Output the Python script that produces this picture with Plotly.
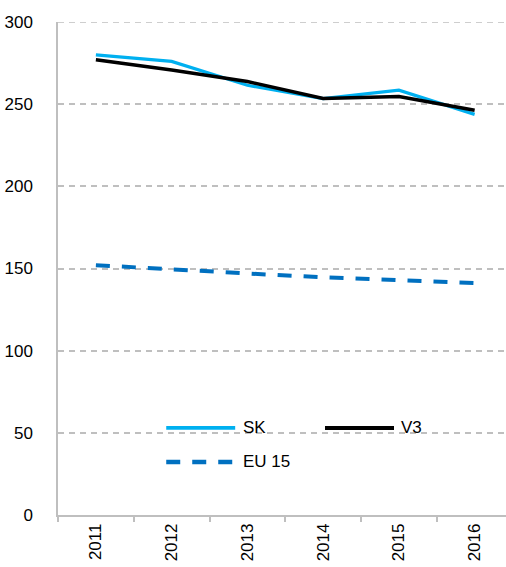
import plotly.graph_objects as go

years = ["2011", "2012", "2013", "2014", "2015", "2016"]
sk = [280, 276, 261.5, 253.4, 258.5, 243.8]
v3 = [277, 270.8, 263.8, 253.4, 254.6, 246.3]
eu15 = [152, 149.8, 147, 144.6, 142.6, 141.2]
y_ticks = [0, 50, 100, 150, 200, 250, 300]

names = ["SK", "V3", "EU 15"]
colors = ["#00B0F0", "#000000", "#0070C0"]
widths = [3.2, 3.5, 4]
dashes = ["solid", "solid", "14px,12px"]
series = [sk, v3, eu15]

FONT = "Liberation Sans, Arial, sans-serif"

fig = go.Figure()
for n, c, w, d, s in zip(names, colors, widths, dashes, series):
    fig.add_trace(go.Scatter(x=years, y=s, mode="lines", name=n,
                             line=dict(color=c, width=w, dash=d),
                             showlegend=False))

# top gridline (at the range edge)
fig.add_shape(type="line", xref="paper", yref="y", x0=0, x1=1, y0=y_ticks[-1], y1=y_ticks[-1],
              line=dict(color="#BFBFBF", width=1.5, dash="6px,5px"), layer="below")

# manual legend (layout elements)
leg = [
    (0.2416, 0.3955, 0.1767, 0),
    (0.596, 0.750, 0.1767, 1),
    (0.2416, 0.3955, 0.1077, 2),
]
for x0, x1, yy, i in leg:
    fig.add_shape(type="line", xref="paper", yref="paper", x0=x0, x1=x1, y0=yy, y1=yy,
                  line=dict(color=colors[i], width=widths[i] + 0.5, dash=dashes[i]))
    fig.add_annotation(xref="paper", yref="paper", x=x1 + 0.012, y=yy, text=names[i],
                       showarrow=False, xanchor="left", yanchor="middle",
                       font=dict(family=FONT, size=17, color="#000000"))

fig.update_layout(
    width=506, height=567,
    margin=dict(l=58, r=0, t=22, b=52, autoexpand=False),
    paper_bgcolor="white", plot_bgcolor="white",
    font=dict(family=FONT, size=17, color="#000000"),
    showlegend=False,
)
fig.update_xaxes(
    type="category", range=[-0.5, 5.414], automargin=False,
    showgrid=False, showline=True, linecolor="#BFBFBF", linewidth=1.5,
    ticks="outside", tickson="boundaries", ticklen=5, tickcolor="#BFBFBF", tickwidth=1.5,
    tickangle=-90, tickfont=dict(family=FONT, size=17),
)
fig.update_yaxes(
    range=[0, 300], tickvals=y_ticks, automargin=False,
    showgrid=True, gridcolor="#BFBFBF", gridwidth=1.5, griddash="6px,5px",
    showline=True, linecolor="#BFBFBF", linewidth=1.5,
    ticks="", ticklabelstandoff=20, zeroline=False,
    tickfont=dict(family=FONT, size=17),
)

fig.write_html("out.html", config={"displayModeBar": False},
               post_script="document.body.style.margin='0';document.body.style.overflow='hidden';")
